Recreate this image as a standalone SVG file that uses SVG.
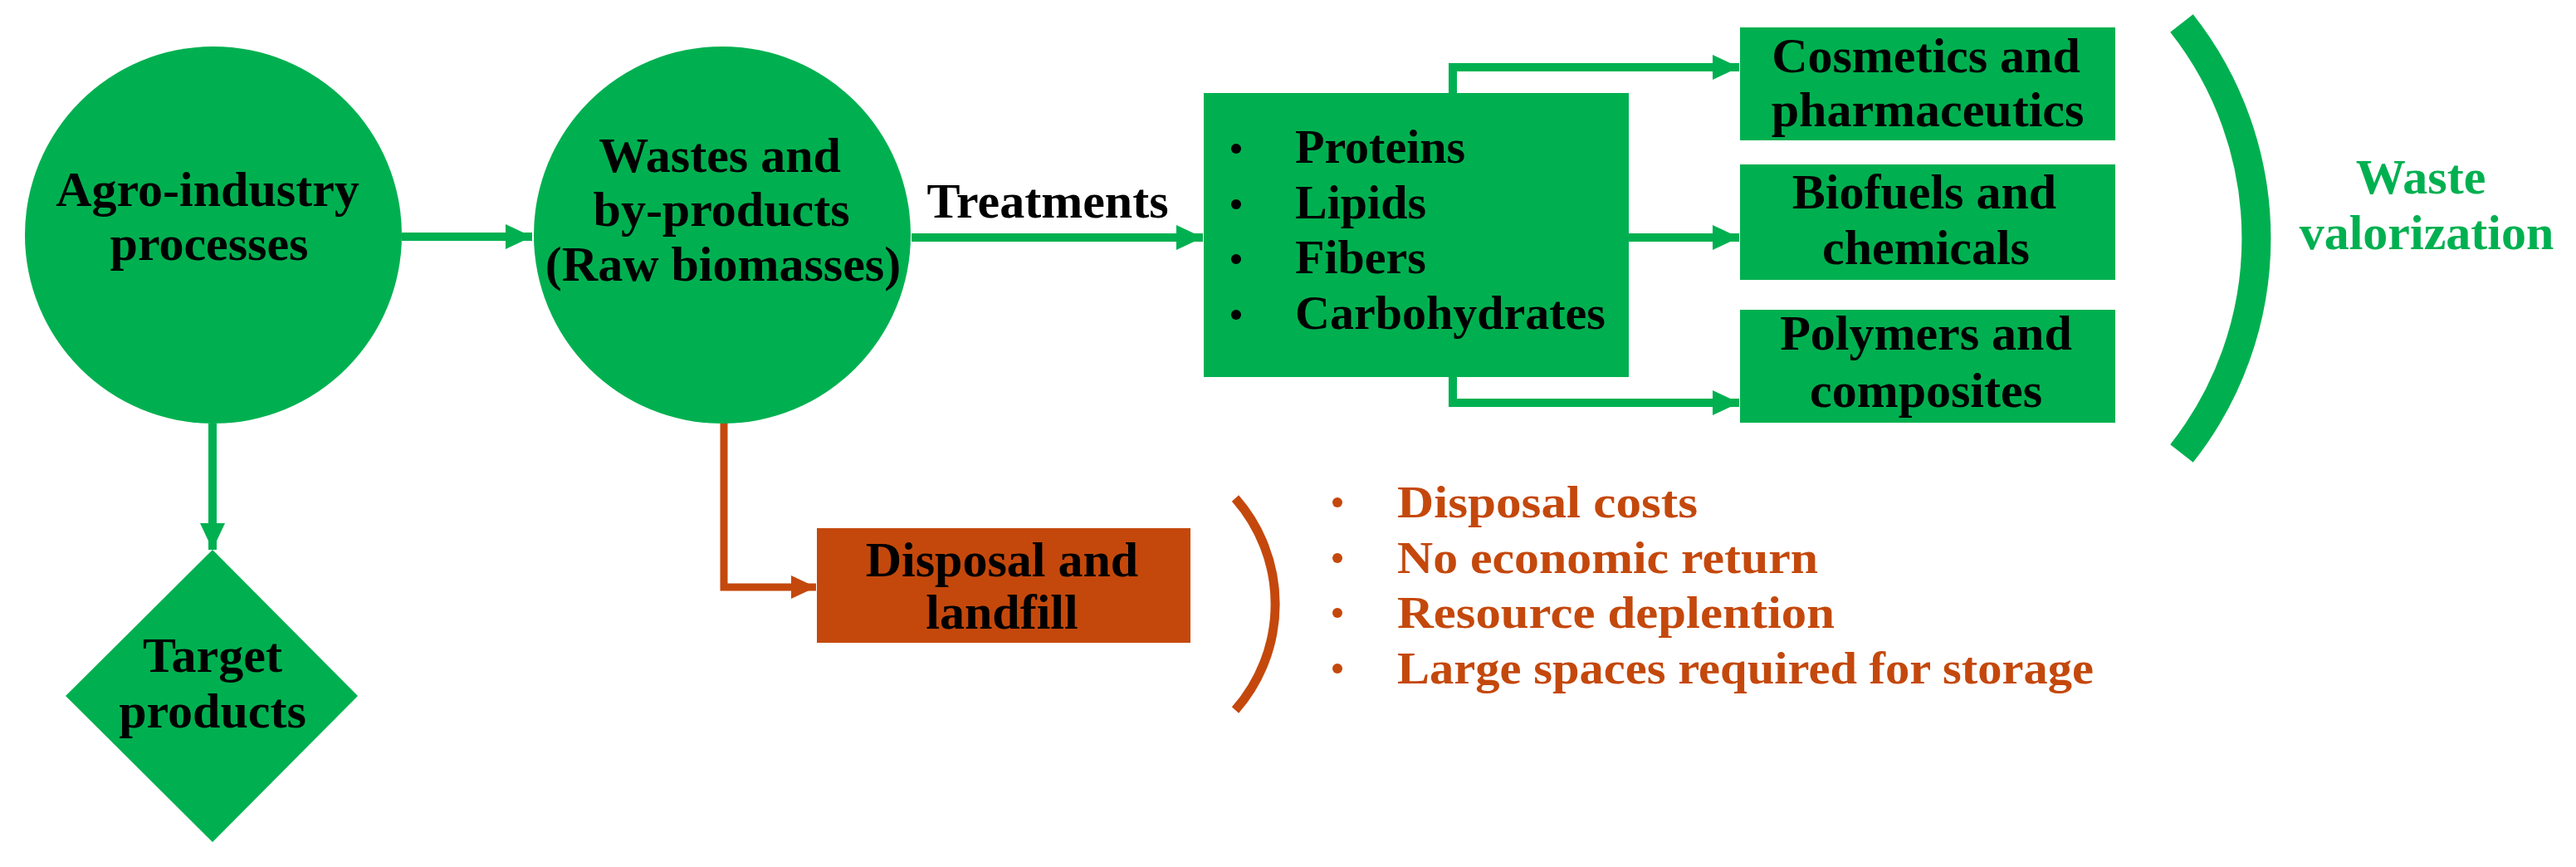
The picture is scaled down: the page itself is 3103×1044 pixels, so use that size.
<svg xmlns="http://www.w3.org/2000/svg" width="3103" height="1044" viewBox="0 0 3103 1044">
<defs>
<style>
.g{fill:#00B050}
.o{fill:#C4480C}
.t{font-family:"Liberation Serif","Times New Roman",serif;font-weight:bold;font-size:60px;fill:#000;text-anchor:middle}
.tl{font-family:"Liberation Serif","Times New Roman",serif;font-weight:bold;font-size:58px;fill:#000}
.ot{font-family:"Liberation Serif","Times New Roman",serif;font-weight:bold;font-size:55px;fill:#C4480C}
.gt{font-family:"Liberation Serif","Times New Roman",serif;font-weight:bold;font-size:60px;fill:#00B050;text-anchor:middle}
.cg{fill:none;stroke:#00B050;stroke-width:10;stroke-linejoin:miter}
.co{fill:none;stroke:#C4480C;stroke-width:9;stroke-linejoin:miter}
</style>
<marker id="ag" markerUnits="userSpaceOnUse" markerWidth="34" markerHeight="32" refX="32" refY="15" orient="auto"><path d="M0,0 L32,15 L0,30 z" fill="#00B050"/></marker>
<marker id="ao" markerUnits="userSpaceOnUse" markerWidth="32" markerHeight="30" refX="30" refY="14" orient="auto"><path d="M0,0 L30,14 L0,28 z" fill="#C4480C"/></marker>
</defs>
<rect width="3103" height="1044" fill="#fff"/>

<g id="connectors">
<path class="cg" d="M484,285 H641" marker-end="url(#ag)"/>
<path class="cg" d="M256,510 V662" marker-end="url(#ag)"/>
<path class="co" d="M872,509 V707 H983" marker-end="url(#ao)"/>
<path class="cg" d="M1098,286 H1449" marker-end="url(#ag)"/>
<path class="cg" d="M1750,112 V81 H2095" marker-end="url(#ag)"/>
<path class="cg" d="M1962,286 H2095" marker-end="url(#ag)"/>
<path class="cg" d="M1750,454 V485 H2095" marker-end="url(#ag)"/>
</g>

<g id="agro">
<circle class="g" cx="257" cy="283" r="227"/>
<text class="t" x="250" y="248">Agro-industry</text>
<text class="t" x="252" y="313">processes</text>
</g>

<g id="wastes">
<circle class="g" cx="870" cy="283" r="227"/>
<text class="t" x="867" y="207">Wastes and</text>
<text class="t" x="869" y="272">by-products</text>
<text class="t" x="871" y="338">(Raw biomasses)</text>
</g>

<g id="target">
<polygon class="g" points="256,662 431,838 256,1014 79,838"/>
<text class="t" x="256" y="809">Target</text>
<text class="t" x="256" y="876">products</text>
</g>

<g id="treatments-label">
<text class="t" x="1262" y="262">Treatments</text>
</g>

<g id="components">
<rect class="g" x="1450" y="112" width="512" height="342"/>
<circle cx="1489" cy="179" r="6"/>
<circle cx="1489" cy="246" r="6"/>
<circle cx="1489" cy="312" r="6"/>
<circle cx="1489" cy="379" r="6"/>
<text class="tl" x="1560" y="196">Proteins</text>
<text class="tl" x="1560" y="263">Lipids</text>
<text class="tl" x="1560" y="329">Fibers</text>
<text class="tl" x="1560" y="396">Carbohydrates</text>
</g>

<g id="cosmetics">
<rect class="g" x="2096" y="33" width="452" height="136"/>
<text class="t" x="2320" y="87">Cosmetics and</text>
<text class="t" x="2322" y="152">pharmaceutics</text>
</g>

<g id="biofuels">
<rect class="g" x="2096" y="198" width="452" height="139"/>
<text class="t" x="2318" y="251">Biofuels and</text>
<text class="t" x="2320" y="318">chemicals</text>
</g>

<g id="polymers">
<rect class="g" x="2096" y="373" width="452" height="136"/>
<text class="t" x="2320" y="421">Polymers and</text>
<text class="t" x="2320" y="490">composites</text>
</g>

<g id="valorization-bracket">
<path d="M2628,28 A418,418 0 0 1 2628,546" fill="none" stroke="#00B050" stroke-width="35"/>
<text class="gt" x="2916" y="233">Waste</text>
<text class="gt" x="2923" y="300">valorization</text>
</g>

<g id="disposal">
<rect class="o" x="984" y="636" width="450" height="138"/>
<text class="t" x="1207" y="694">Disposal and</text>
<text class="t" x="1207" y="757">landfill</text>
</g>

<g id="disposal-bracket">
<path d="M1488,600 A193,193 0 0 1 1488,855" fill="none" stroke="#C4480C" stroke-width="11"/>
</g>

<g id="drawbacks">
<circle class="o" cx="1611" cy="605" r="6"/>
<circle class="o" cx="1611" cy="672" r="6"/>
<circle class="o" cx="1611" cy="738" r="6"/>
<circle class="o" cx="1611" cy="805" r="6"/>
<text class="ot" x="1683" y="623" textLength="362" lengthAdjust="spacingAndGlyphs">Disposal costs</text>
<text class="ot" x="1683" y="690" textLength="507" lengthAdjust="spacingAndGlyphs">No economic return</text>
<text class="ot" x="1683" y="756" textLength="527" lengthAdjust="spacingAndGlyphs">Resource deplention</text>
<text class="ot" x="1683" y="823" textLength="839" lengthAdjust="spacingAndGlyphs">Large spaces required for storage</text>
</g>
</svg>
